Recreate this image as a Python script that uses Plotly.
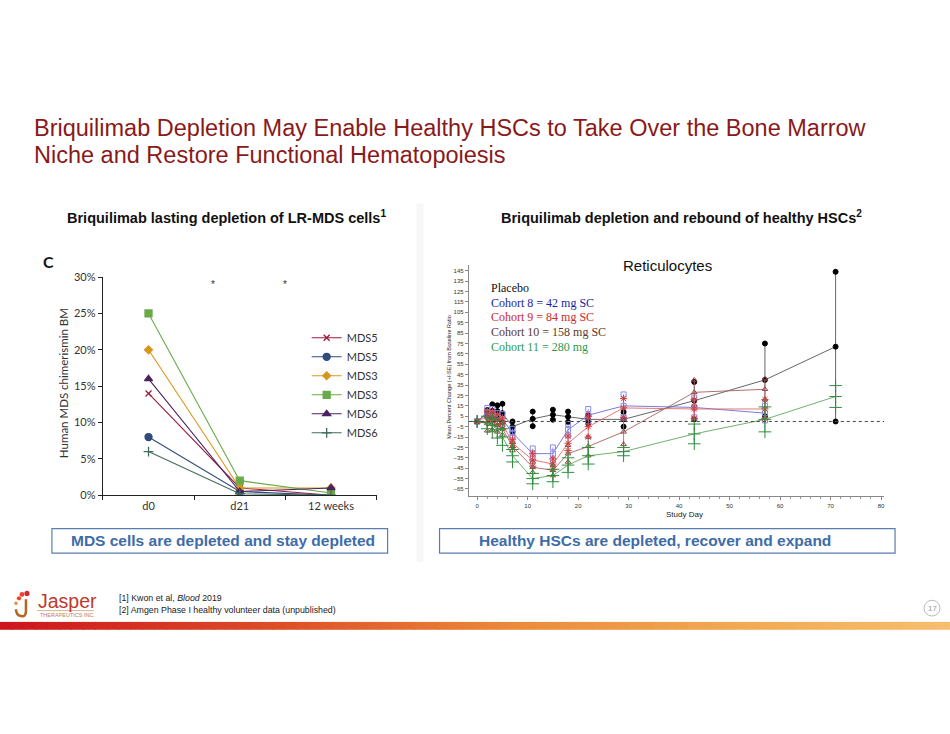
import plotly.graph_objects as go

W, H = 950, 734
def px(x): return x / W
def py(y): return 1 - y / H

# ---------------- Left panel data (percent) ----------------
mds_categories = ["d0", "d21", "12 weeks"]
mds5_x = [14.0, 1.0, 0.0]
mds5_circle = [8.0, 0.5, 0.0]
mds3_diamond = [20.0, 1.0, 1.0]
mds3_square = [25.0, 2.0, 0.3]
mds6_triangle = [16.0, 0.5, 1.0]
mds6_cross = [6.0, 0.2, 0.0]
left_ticks = [0, 5, 10, 15, 20, 25, 30]

# ---------------- Right panel data (mean % change, SE) ----------------
study_days = [0, 2, 3, 4, 5, 7, 11, 15, 18, 22, 29, 43, 57, 71]
placebo_mean = [0, 8, 10, 10, 8, -5, 2.5, 6.5, 4.5, 2, 2, 20, 40, 72]
placebo_se = [0, 3, 6.5, 5.5, 9, 5, 7, 4.8, 5, 4, 7, 18, 35, 72]
c8_days = [0, 2, 3, 4, 5, 7, 11, 15, 18, 22, 29, 43, 57]
c8_mean = [0, 9, 8, 4, 2, -11, -31, -31, -8, 6, 15, 13.5, 8]
c8_se = [0, 4, 4, 4, 5, 4, 5, 6, 5.5, 6, 11, 9.5, 7]
c9_days = [0, 2, 3, 4, 5, 7, 11, 15, 18, 22, 29, 43, 57]
c9_mean = [0, 5, 5, 2, -2, -21, -37, -41, -21, -5, 13, 12, 12]
c9_se = [0, 5, 4, 5, 5, 4, 6, 5, 7, 10, 9, 9, 9]
c10_days = [0, 2, 3, 4, 5, 7, 11, 15, 18, 22, 29, 43, 57]
c10_mean = [0, -2, -2, -4, -7, -24, -44, -47, -31, -24, -10, 28, 31]
c10_se = [0, 7, 6, 6, 6, 4, 5, 5, 8, 9, 12, 12, 10]
c11_days = [0, 2, 3, 4, 5, 7, 11, 15, 18, 22, 29, 43, 57, 71]
c11_mean = [0, -1, -4, -8, -15, -33, -55, -52, -42, -33, -29, -12, 2, 24]
c11_se = [0, 6, 6, 8, 8, 6, 5, 6, 7, 8, 4, 9.5, 12, 10.5]
right_yticks = list(range(-65, 146, 10))
right_xticks = [0, 10, 20, 30, 40, 50, 60, 70, 80]
cohort_labels = ["Placebo", "Cohort 8 = 42 mg SC", "Cohort 9 = 84 mg SC",
                 "Cohort 10 = 158 mg SC", "Cohort 11 = 280 mg"]

fig = go.Figure()

# ---------------- Left panel ----------------
left_series = [
    ("MDS5", mds5_x, "#9b1b3e", "x-thin-open", 6),
    ("MDS5", mds5_circle, "#2f4b7c", "circle", 7),
    ("MDS3", mds3_diamond, "#d8961c", "diamond", 6),
    ("MDS3", mds3_square, "#6aaa48", "square", 7),
    ("MDS6", mds6_triangle, "#4a2160", "triangle-up", 7),
    ("MDS6", mds6_cross, "#3f6b5c", "cross-thin-open", 7),
]
for name, vals, col, sym, sz in left_series:
    fig.add_trace(go.Scatter(
        x=mds_categories, y=vals, name=name, mode="lines+markers",
        line=dict(color=col, width=1.1),
        marker=dict(symbol=sym, size=sz, color=col, line=dict(color=col, width=1.3)),
        xaxis="x", yaxis="y", legend="legend"))

# ---------------- Right panel ----------------
right_series = [
    (study_days, placebo_mean, placebo_se, "#555555", "#000000", "#555555", "circle", 5),
    (c8_days, c8_mean, c8_se, "#6b6bd6", "#8a8ae6", "#8a8ae6", "square-open", 5),
    (c9_days, c9_mean, c9_se, "#e06a6a", "#d83a3a", "#e07070", "asterisk-open", 6),
    (c10_days, c10_mean, c10_se, "#a86060", "#9a4a4a", "#b07070", "triangle-up-open", 5),
    (c11_days, c11_mean, c11_se, "#5fa85f", "#2f8f3f", "#5fa85f", "cross-thin-open", 9),
]
for days, mean, se, lcol, mcol, ecol, sym, sz in right_series:
    fig.add_trace(go.Scatter(
        x=days, y=mean, mode="lines+markers", showlegend=False,
        line=dict(color=lcol, width=0.9),
        marker=dict(symbol=sym, size=sz, color=mcol, line=dict(color=mcol, width=1)),
        error_y=dict(type="data", array=se, visible=True, color=ecol, thickness=0.9, width=0),
        xaxis="x2", yaxis="y2"))
    ends_x = list(days) + list(days)
    ends_y = [m + s for m, s in zip(mean, se)] + [m - s for m, s in zip(mean, se)]
    fig.add_trace(go.Scatter(
        x=ends_x, y=ends_y, mode="markers", showlegend=False,
        marker=dict(symbol=sym, size=sz, color=mcol, line=dict(color=mcol, width=1)),
        xaxis="x2", yaxis="y2"))

# ---------------- Layout ----------------
axis_font = dict(family="Lato, Open Sans, sans-serif", size=11, color="#333333")
fig.update_layout(
    width=W, height=H, margin=dict(l=0, r=0, t=0, b=0),
    paper_bgcolor="white", plot_bgcolor="white",
    xaxis=dict(domain=[px(103), px(377)], type="category", range=[-0.5, 2.5],
               showline=True, linecolor="#222222", linewidth=1.3, showgrid=False,
               ticks="outside", ticklen=4, tickcolor="#222222", tickson="boundaries",
               tickfont=axis_font, zeroline=False, anchor="y"),
    yaxis=dict(domain=[py(497), py(275)], range=[0, 30], tickmode="array",
               tickvals=left_ticks, ticktext=["%d%%" % v for v in left_ticks],
               showline=True, linecolor="#222222", linewidth=1.3,
               showgrid=False, ticks="outside", ticklen=4, tickcolor="#222222",
               tickfont=axis_font, zeroline=False, anchor="x"),
    xaxis2=dict(domain=[px(469.3), px(885)], range=[-1.66, 80.6],
                tickvals=right_xticks, showline=True, linecolor="#888888", linewidth=1,
                showgrid=False, ticks="outside", ticklen=3, tickcolor="#888888",
                minor=dict(dtick=2, ticks="outside", ticklen=2, tickcolor="#999999"),
                tickfont=dict(family="Liberation Sans, Arial", size=6, color="#333333"),
                zeroline=False, anchor="y2"),
    yaxis2=dict(domain=[py(498.3), py(262.2)], range=[-72.2, 151],
                tickvals=right_yticks, showline=True, linecolor="#888888", linewidth=1,
                showgrid=False, ticks="outside", ticklen=3, tickcolor="#888888",
                tickfont=dict(family="Liberation Sans, Arial", size=6, color="#333333"),
                zeroline=False, anchor="x2"),
    legend=dict(x=px(307), y=py(322), xanchor="left", yanchor="top",
                font=dict(family="Lato, Open Sans, sans-serif", size=11, color="#333333"),
                bgcolor="rgba(0,0,0,0)", tracegroupgap=0, itemwidth=30),
)

shapes = []
# dashed zero line
shapes.append(dict(type="line", xref="x2 domain", yref="y2", x0=0, x1=1, y0=0, y1=0,
                   line=dict(color="#444444", width=1, dash="dot")))
# panel divider shadow
shapes.append(dict(type="rect", xref="paper", yref="paper", x0=px(417), x1=px(424),
                   y0=py(565), y1=py(200), fillcolor="rgba(0,0,0,0.03)", line=dict(width=0)))
# caption boxes
for x0, x1 in [(52, 388), (440, 896)]:
    shapes.append(dict(type="rect", xref="paper", yref="paper", x0=px(x0), x1=px(x1),
                       y0=py(556), y1=py(531), line=dict(color="#5a7db0", width=1.2),
                       fillcolor="white"))
# gradient footer bar
stops = [(0.0, (205, 20, 30)), (0.3, (222, 80, 40)), (0.55, (236, 140, 60)),
         (0.8, (243, 172, 85)), (1.0, (247, 190, 110))]
def grad(t):
    for (t0, c0), (t1, c1) in zip(stops[:-1], stops[1:]):
        if t0 <= t <= t1:
            f = (t - t0) / (t1 - t0)
            return "rgb(%d,%d,%d)" % tuple(int(a + (b - a) * f) for a, b in zip(c0, c1))
    return "rgb(247,190,110)"
n = 80
for i in range(n):
    shapes.append(dict(type="rect", xref="paper", yref="paper",
                       x0=i / n, x1=(i + 1) / n + 0.001, y0=py(634), y1=py(626),
                       fillcolor=grad((i + 0.5) / n), line=dict(width=0), layer="above"))
# page number circle
shapes.append(dict(type="circle", xref="paper", yref="paper", x0=px(925), x1=px(941),
                   y0=py(620), y1=py(604), line=dict(color="#bbbbbb", width=1)))
# logo J
shapes.append(dict(type="path", xref="paper", yref="paper",
                   path="M %f %f L %f %f Q %f %f %f %f Q %f %f %f %f" % (
                       px(26), py(603), px(26), py(615), px(26), py(621), px(21), py(620),
                       px(16), py(619), px(16), py(613)),
                   line=dict(color="#b5651d", width=2.5)))
# logo dots
for cx, cy, r, c in [(19, 602, 2.2, "#e8452a"), (22, 598, 2.4, "#e8452a"),
                     (27, 597, 2.6, "#d42a2a"), (16, 607, 1.8, "#f08a3a")]:
    shapes.append(dict(type="circle", xref="paper", yref="paper",
                       x0=px(cx - r), x1=px(cx + r), y0=py(cy + r), y1=py(cy - r),
                       fillcolor=c, line=dict(width=0)))
# logo underline
shapes.append(dict(type="line", xref="paper", yref="paper", x0=px(37), x1=px(94),
                   y0=py(614.5), y1=py(614.5), line=dict(color="#c8a070", width=0.8)))
fig.update_layout(shapes=shapes)

ann = []
def text(x, y, t, size, color="#111111", family="Liberation Sans, Arial", xanchor="left",
         yanchor="middle", angle=0):
    ann.append(dict(xref="paper", yref="paper", x=px(x), y=py(y), text=t, showarrow=False,
                    xanchor=xanchor, yanchor=yanchor, textangle=angle,
                    font=dict(family=family, size=size, color=color)))

text(32, 123, "Briquilimab Depletion May Enable Healthy HSCs to Take Over the Bone Marrow", 23.5, "#8a1a1a")
text(32, 151, "Niche and Restore Functional Hematopoiesis", 23.5, "#8a1a1a")
text(227, 214, "<b>Briquilimab lasting depletion of LR-MDS cells<sup>1</sup></b>", 14.5, "#111111", xanchor="center")
text(682, 214, "<b>Briquilimab depletion and rebound of healthy HSCs<sup>2</sup></b>", 14.5, "#111111", xanchor="center")
text(41, 259, "<b>C</b>", 16, "#111111", family="Lato, Open Sans, sans-serif")
text(63, 383, "Human MDS chimerismin BM", 11.5, "#333333", family="Lato, Open Sans, sans-serif",
     xanchor="center", angle=-90)
text(213, 283, "*", 10, "#333333", xanchor="center")
text(285, 283, "*", 10, "#333333", xanchor="center")
# right chart texts
text(668, 263, "Reticulocytes", 15, "#111111", xanchor="center")
legend_colors = ["#111111", "#1c1ca0", "#cc2a2a", "#5a3a2a", "#2e9a4e"]
for i, (lab, col) in enumerate(zip(cohort_labels, legend_colors)):
    text(490, 286 + i * 15, lab, 12, col, family="Liberation Serif, DejaVu Serif, serif")
text(450, 377, "Mean Percent Change (+/-SE) from Baseline Ratio", 5.5, "#222222",
     xanchor="center", angle=-90)
text(685, 517, "Study Day", 8, "#222222", xanchor="center")
# captions
text(223, 543.5, "<b>MDS cells are depleted and stay depleted</b>", 15.5, "#3e6ca8", xanchor="center")
text(656, 543.5, "<b>Healthy HSCs are depleted, recover and expand</b>", 15.5, "#3e6ca8", xanchor="center")
# footer
text(117, 602, "[1] Kwon et al, <i>Blood</i> 2019", 8.8, "#222222")
text(117, 614, "[2] Amgen Phase I healthy volunteer data (unpublished)", 8.8, "#222222")
text(933, 612, "17", 8, "#999999", xanchor="center")
text(36, 605, "Jasper", 19.5, "#c0392b")
text(38, 619, "THERAPEUTICS INC.", 5.5, "#c87850")
fig.update_layout(annotations=ann)

fig.write_html("out.html",
               config={"displayModeBar": False},
               post_script="document.body.style.margin='0px';"
                           "document.body.style.padding='0px';"
                           "document.documentElement.style.overflow='hidden';")
